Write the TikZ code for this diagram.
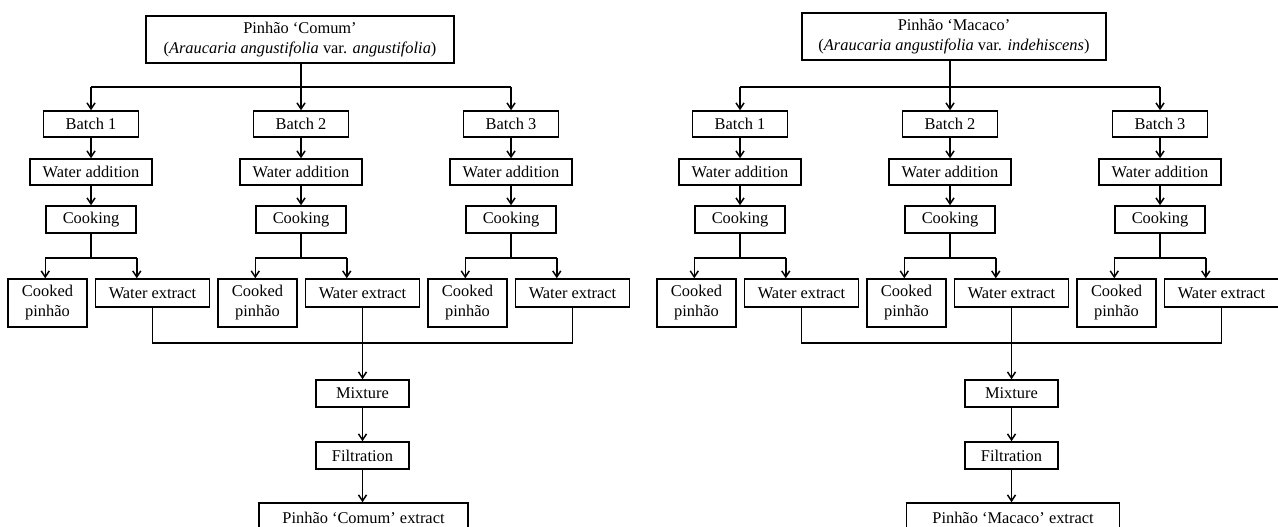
\documentclass[tikz,border=0pt]{standalone}
\usepackage{fontspec}
\setmainfont{Liberation Serif}
\usetikzlibrary{arrows.meta}

\begin{document}
\begin{tikzpicture}[x=1pt,y=-1pt,line width=1.5pt,
  every node/.style={font=\fontsize{16.4}{20}\selectfont},
  box/.style={draw,line width=1.5pt,inner sep=0pt,align=center},
  arr/.style={-{Straight Barb[length=6pt,width=8pt]}}]
  \useasboundingbox (0,0) rectangle (1278,527);
  \foreach \p/\dx/\tx/\ty/\tw/\nm/\vr/\fx/\fw in {L/0/300/39.5/308/Comum/angustifolia/363.5/209, R/649/954/36.5/304/Macaco/indehiscens/1013/213}{
    \node[box,minimum width=\tw,minimum height=47] (top\p) at (\tx,\ty)
      {Pinhão ‘\nm’\\(\textit{Araucaria angustifolia} var. \textit{\vr})};
    \foreach \i in {1,2,3}{
      \pgfmathsetmacro\bx{91+210*(\i-1)+\dx}
      \node[box,minimum width=95,minimum height=26] (b\i\p) at (\bx,124) {Batch \i};
      \node[box,minimum width=122,minimum height=26] (w\i\p) at (\bx,172) {Water addition};
      \node[box,minimum width=90,minimum height=27] (c\i\p) at (\bx,219.5) {Cooking};
      \node[box,minimum width=79,minimum height=48] (k\i\p) at (\bx-43.5,303) {Cooked\\pinhão};
      \node[box,minimum width=114,minimum height=28] (e\i\p) at (\bx+61.5,293) {Water extract};
      \coordinate (br\i\p) at (\bx,258);
      \draw[arr] (b\i\p) -- (w\i\p);
      \draw[arr] (w\i\p) -- (c\i\p);
      \draw (c\i\p.south) -- (br\i\p);
      \draw (c\i\p.south west |- br\i\p) -- (c\i\p.south east |- br\i\p);
      \draw[arr] (c\i\p.south west |- br\i\p) -- (c\i\p.south west |- k\i\p.north);
      \draw[arr] (c\i\p.south east |- br\i\p) -- (c\i\p.south east |- e\i\p.north);
    }
    \coordinate (h\p) at (301+\dx,87);
    \draw (top\p.south -| h\p) -- (h\p);
    \draw (b1\p.north |- h\p) -- (b3\p.north |- h\p);
    \foreach \i in {1,2,3} \draw[arr] (b\i\p.north |- h\p) -- (b\i\p.north);
    \node[box,minimum width=93,minimum height=27] (m\p) at (362.5+\dx,393.5) {Mixture};
    \node[box,minimum width=93,minimum height=27] (f\p) at (362.5+\dx,455.5) {Filtration};
    \node[box,minimum width=\fw,minimum height=30] (x\p) at (\fx,518) {Pinhão ‘\nm’ extract};
    \coordinate (j\p) at (362.5+\dx,343);
    \draw (e1\p.south) |- (j\p) -| (e3\p.south);
    \draw[arr] (e2\p.south) -- (m\p.north);
    \draw[arr] (m\p) -- (f\p);
    \draw[arr] (f\p.south) -- (f\p.south |- x\p.north);
  }
\end{tikzpicture}
\end{document}
